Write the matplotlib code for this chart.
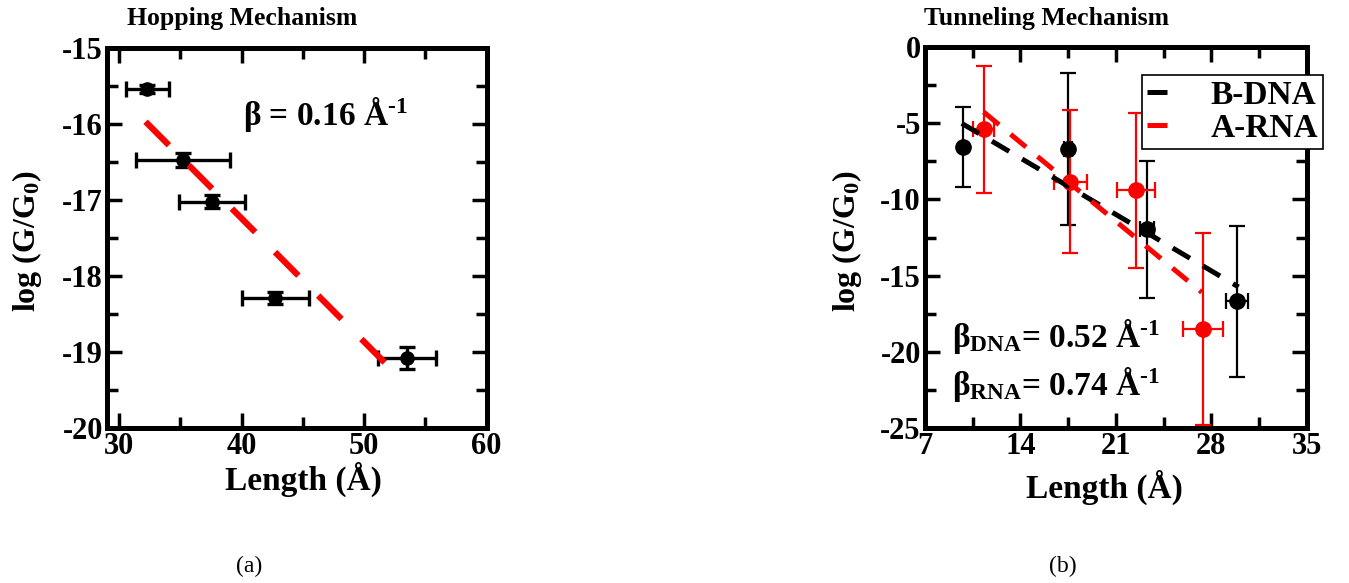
import matplotlib
matplotlib.use("Agg")
import matplotlib.pyplot as plt
from matplotlib.ticker import MultipleLocator

# ---------------- data ----------------
hop_len = [32.3, 35.2, 37.6, 42.75, 53.5]
hop_logG = [-15.54, -16.47, -17.02, -18.29, -19.08]
hop_len_err = [1.76, 3.85, 2.7, 2.75, 2.4]
hop_logG_err = [0.05, 0.09, 0.08, 0.08, 0.15]
hop_fit_x = [32.15, 52.0]
hop_fit_y = [-15.97, -19.19]

dna_len = [9.8, 17.5, 23.3, 29.9]
dna_logG = [-6.55, -6.7, -11.95, -16.7]
dna_len_err = [0.0, 0.3, 0.5, 0.8]
dna_logG_err = [2.6, 5.0, 4.5, 4.95]
rna_len = [11.3, 17.65, 22.45, 27.4]
rna_logG = [-5.4, -8.85, -9.4, -18.5]
rna_len_err = [0.75, 1.2, 1.4, 1.45]
rna_logG_err = [4.2, 4.7, 5.1, 6.3]
dna_fit_x = [9.7, 30.0]
dna_fit_y = [-5.0, -15.75]
rna_fit_x = [11.3, 27.3]
rna_fit_y = [-4.25, -16.1]

hop_xticks = [30, 40, 50, 60]
hop_yticks = [-20, -19, -18, -17, -16, -15]
tun_xticks = [7, 14, 21, 28, 35]
tun_yticks = [-25, -20, -15, -10, -5, 0]

# ---------------- style ----------------
plt.rcParams['font.family'] = ['Liberation Serif', 'DejaVu Serif']
plt.rcParams['font.weight'] = 'bold'
plt.rcParams['axes.unicode_minus'] = False
plt.rcParams['mathtext.fontset'] = 'custom'
plt.rcParams['mathtext.rm'] = 'Liberation Serif'
plt.rcParams['mathtext.bf'] = 'Liberation Serif:bold'
plt.rcParams['mathtext.it'] = 'Liberation Serif:italic'
plt.rcParams['mathtext.default'] = 'bf'

W, H = 1349, 583
fig = plt.figure(figsize=(W / 100, H / 100), dpi=100)

HY = '\u2010'  # hyphen used for "-1" superscripts


def px_axes(l, t, r, b):
    return fig.add_axes([l / W, 1 - b / H, (r - l) / W, (b - t) / H])


def style_axes(ax):
    for s in ax.spines.values():
        s.set_linewidth(3.6)
    ax.tick_params(which='both', direction='in', top=True, right=True,
                   width=2.5, labelsize=22, pad=3)
    ax.tick_params(which='major', length=11)
    ax.tick_params(which='minor', length=8)
    for lab in ax.get_xticklabels() + ax.get_yticklabels():
        lab.set_fontweight('bold')


# ---------------- panel (a) ----------------
ax1 = px_axes(107, 48, 486.5, 428)
ax1.errorbar(hop_len, hop_logG, xerr=hop_len_err, yerr=hop_logG_err,
             fmt='o', color='black', ms=9.5, elinewidth=2.4, capsize=6,
             capthick=2.4, zorder=3)
ax1.plot(hop_fit_x, hop_fit_y, color='#ff0000', lw=4.5, dashes=(5.3, 4.5),
         solid_capstyle='butt', zorder=4)
ax1.set_xlim(29, 60)
ax1.set_ylim(-20, -15)
ax1.set_xticks(hop_xticks)
ax1.set_yticks(hop_yticks)
ax1.xaxis.set_minor_locator(MultipleLocator(5))
ax1.yaxis.set_minor_locator(MultipleLocator(0.5))
style_axes(ax1)
ax1.text(0.358, 0.797, r'$\mathrm{β}$ = 0.16 Å$^{' + HY + '1}$', transform=ax1.transAxes,
         fontsize=24, fontweight='bold', va='baseline', ha='left')

# ---------------- panel (b) ----------------
ax2 = px_axes(925, 47.3, 1306.7, 427.7)
ax2.errorbar(dna_len, dna_logG, xerr=dna_len_err, yerr=dna_logG_err,
             fmt='o', color='black', ms=11, elinewidth=1.6, capsize=6,
             capthick=1.6, zorder=3)
ax2.errorbar(rna_len, rna_logG, xerr=rna_len_err, yerr=rna_logG_err,
             fmt='o', color='#ff0000', ms=11, elinewidth=1.6, capsize=6,
             capthick=1.6, zorder=3)
ax2.plot(dna_fit_x, dna_fit_y, color='black', lw=3.6, dashes=(4, 3),
         label='B-DNA', zorder=4)
ax2.plot(rna_fit_x, rna_fit_y, color='#ff0000', lw=3.6, dashes=(4, 3),
         label='A-RNA', zorder=4)
ax2.set_xlim(7, 35)
ax2.set_ylim(-25, 0)
ax2.set_xticks(tun_xticks)
ax2.set_yticks(tun_yticks)
ax2.xaxis.set_minor_locator(MultipleLocator(3.5))
ax2.yaxis.set_minor_locator(MultipleLocator(2.5))
style_axes(ax2)
leg = ax2.legend(loc='upper right', bbox_to_anchor=(1.043, 0.927),
                 prop={'family': 'Liberation Serif', 'weight': 'bold', 'size': 24},
                 frameon=True, fancybox=False, framealpha=1, edgecolor='black',
                 handlelength=0.7, handletextpad=1.2, borderpad=0.15,
                 labelspacing=0.05, borderaxespad=0)
leg.get_frame().set_linewidth(1.2)
ax2.text(0.071, 0.212, r'$\mathrm{β}_{DNA}$= 0.52 Å$^{' + HY + '1}$', transform=ax2.transAxes,
         fontsize=24, fontweight='bold', va='baseline', ha='left')
ax2.text(0.071, 0.086, r'$\mathrm{β}_{RNA}$= 0.74 Å$^{' + HY + '1}$', transform=ax2.transAxes,
         fontsize=24, fontweight='bold', va='baseline', ha='left')

# ---------------- labels ----------------
def ftext(x, y, s, **kw):
    fig.text(x / W, 1 - y / H, s, **kw)

ftext(242, 18, 'Hopping Mechanism', fontsize=18.5, fontweight='bold', ha='center', va='center')
ftext(1046, 18, 'Tunneling Mechanism', fontsize=18.5, fontweight='bold', ha='center', va='center')
ftext(303, 479, 'Length (Å)', fontsize=24, fontweight='bold', ha='center', va='center')
ftext(1104, 487, 'Length (Å)', fontsize=24, fontweight='bold', ha='center', va='center')
ftext(27, 241, r'log (G/G$_{0}$)', fontsize=23, fontweight='bold', ha='center',
      va='center', rotation=90)
ftext(847, 241, r'log (G/G$_{0}$)', fontsize=23, fontweight='bold', ha='center',
      va='center', rotation=90)
ftext(249, 566, '(a)', fontsize=17, fontweight='normal', ha='center', va='center')
ftext(1063, 566, '(b)', fontsize=17, fontweight='normal', ha='center', va='center')

fig.savefig('out.png', dpi=100)
